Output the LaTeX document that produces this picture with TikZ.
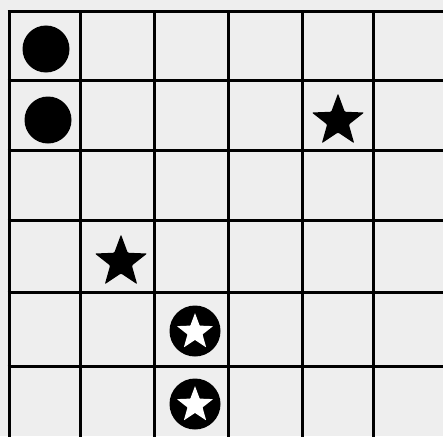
\documentclass[tikz,border=0pt]{standalone}
\usetikzlibrary{shapes.geometric}
\definecolor{paper}{HTML}{EEEEEE}
\begin{document}
\begin{tikzpicture}[x=1pt,y=-1pt,
  gridline/.style={line width=3pt, black},
  disc/.style={circle, fill=black, minimum size=47pt, inner sep=0pt},
  blackstar/.style={star, star points=5, star point ratio=2.4, fill=black, minimum size=55pt, inner sep=0pt, rounded corners=1pt},
  ringdisc/.style={circle, fill=black, minimum size=51pt, inner sep=0pt},
  whitestar/.style={star, star points=5, star point ratio=2.4, fill=white, minimum size=38pt, inner sep=0pt, rounded corners=0.5pt}]
\fill[paper] (0,0) rectangle (443,436);
\useasboundingbox (0,0) rectangle (443,436);
% vertical lines
\foreach \x in {9,80,154,228,302,373} \draw[gridline] (\x,12) -- (\x,440);
% horizontal lines
\foreach \y in {12,80,150,220,292,366} \draw[gridline] (7.5,\y) -- (445,\y);
% discs
\node[disc] (d1) at (46,49) {};
\node[disc] (d2) at (48,120) {};
% black stars
\node[blackstar] (s1) at (338,121) {};
\node[blackstar] (s2) at (121,262) {};
% circled stars
\node[ringdisc] (r1) at (195,331) {};
\node[whitestar] (w1) at (195,332) {};
\node[ringdisc] (r2) at (195,404) {};
\node[whitestar] (w2) at (195,405) {};
\end{tikzpicture}
\end{document}
